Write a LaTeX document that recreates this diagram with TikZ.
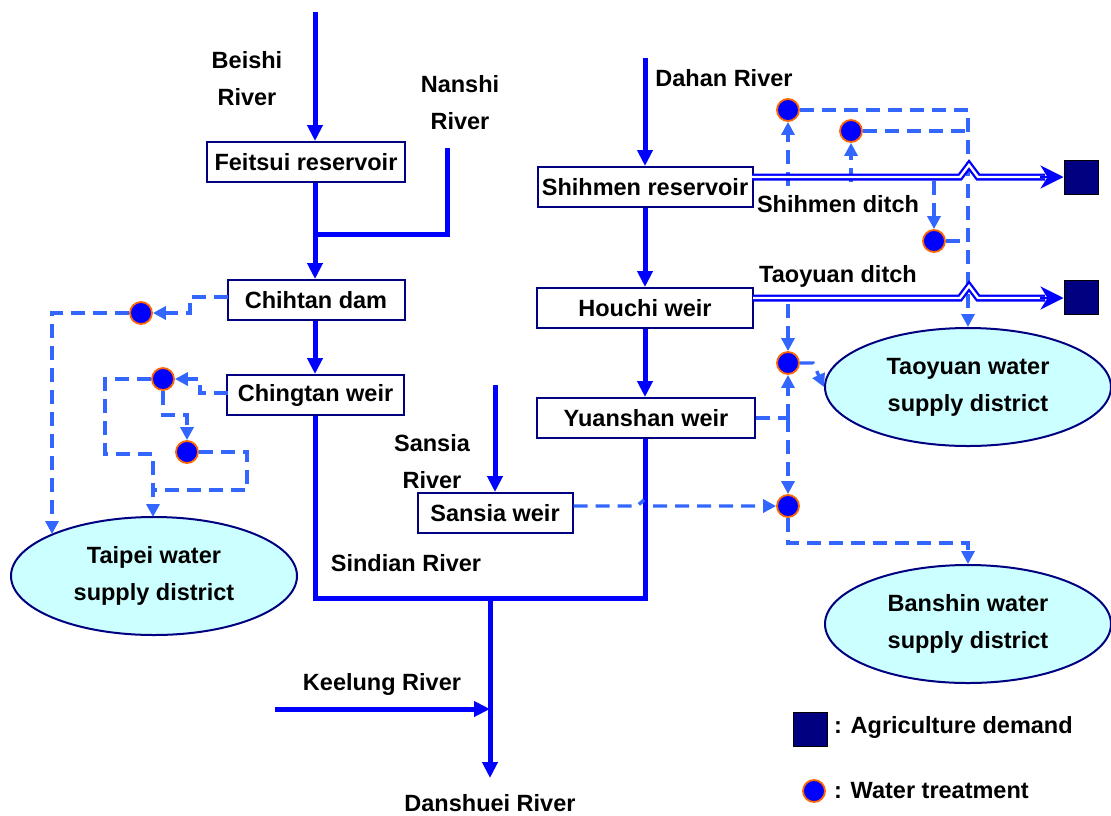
\documentclass[tikz,border=0pt]{standalone}
\usepackage{fontspec}
\setmainfont{Liberation Sans}
\usetikzlibrary{arrows.meta,shapes.geometric}
\definecolor{riv}{HTML}{0000FF}
\definecolor{dsh}{HTML}{3366FF}
\definecolor{nav}{HTML}{000080}
\definecolor{org}{HTML}{FF6600}
\definecolor{cyn}{HTML}{CCFFFF}
\begin{document}
\begin{tikzpicture}[x=1pt,y=-1pt,
 every node/.style={font=\fontsize{23.5}{37}\selectfont\bfseries},
 box/.style={draw=nav, line width=2pt, fill=white, minimum height=40pt, inner sep=0pt},
 district/.style={ellipse, draw=nav, line width=2pt, fill=cyn, minimum width=286pt, minimum height=118pt, align=center, inner sep=0pt},
 lbl/.style={align=center, inner sep=0pt},
 river/.style={draw=riv, line width=5pt},
 rarrow/.style={river, -{Triangle[length=16pt,width=15pt]}},
 ditch/.style={draw=riv, line width=2.3pt, double=white, double distance=2.4pt},
 ditcharrow/.style={draw=riv, line width=2.5pt, -{Stealth[length=23pt,width=23pt,inset=7pt]}},
 dsl/.style={draw=dsh, line width=3.4pt, dash pattern=on 14pt off 8pt},
 darrow/.style={dsl, -{Triangle[length=13pt,width=13pt]}},
 wt/.style={circle, fill=riv, draw=org, line width=1.8pt, minimum size=22pt, inner sep=0pt},
 agri/.style={draw=black, line width=1pt, fill=nav, minimum size=34pt, inner sep=0pt},
]
\useasboundingbox (0,0) rectangle (1111,815);

% boxes
\node[box, minimum width=198pt] (feitsui) at (306,162) {Feitsui reservoir};
\node[box, minimum width=177pt] (chihtan) at (316,300) {Chihtan dam};
\node[box, minimum width=177pt] (chingtan) at (315.5,395) {Chingtan weir};
\node[box, minimum width=215pt] (shihmen) at (645,187) {Shihmen reservoir};
\node[box, minimum width=216pt] (houchi) at (645,308) {Houchi weir};
\node[box, minimum width=218pt] (yuanshan) at (646,418) {Yuanshan weir};
\node[box, minimum width=155pt] (sansiaw) at (495,513) {Sansia weir};

% districts
\node[district] (taoyuan) at (968,387) {Taoyuan water\\supply district};
\node[district] (banshin) at (968,624) {Banshin water\\supply district};
\node[district] (taipei) at (154,576) {Taipei water\\supply district};

% water treatment
\node[wt] (c1) at (788,110) {};
\node[wt] (c2) at (851,131) {};
\node[wt] (c3) at (934,241) {};
\node[wt] (c4) at (788,363) {};
\node[wt] (c5) at (788,506) {};
\node[wt] (c6) at (141,313) {};
\node[wt] (c7) at (163,379) {};
\node[wt] (c8) at (187,452) {};

% agriculture
\node[agri] (ag1) at (1081,177) {};
\node[agri] (ag2) at (1081,297) {};

% labels
\node[lbl] (beishi) at (247,79) {Beishi\\River};
\node[lbl] (nanshi) at (460,103) {Nanshi\\River};
\node[lbl] (dahan) at (724,78) {Dahan River};
\node[lbl] (sdlbl) at (838,204) {Shihmen ditch};
\node[lbl] (tdlbl) at (838,276) {Taoyuan ditch};
\node[lbl] (sansiaR) at (432,462) {Sansia\\River};
\node[lbl] (sindian) at (406,563) {Sindian River};
\node[lbl] (keelung) at (382,684) {Keelung River};
\node[lbl] (danshuei) at (490,803) {Danshuei River};

% legend
\node[agri] (lg1) at (810,729) {};
\node[wt] (lg2) at (814,791) {};
\node[lbl, anchor=west] (lgt1) at (834,727) {: Agriculture demand};
\node[lbl, anchor=west] (lgt2) at (834,791) {: Water treatment};

% rivers
\coordinate (beishiTop) at (315,12);
\draw[rarrow] (beishiTop) -- (beishiTop |- feitsui.north);
\draw[rarrow] (beishiTop |- feitsui.south) -- (beishiTop |- chihtan.north);
\coordinate (nanshiTop) at (447,148);
\coordinate (nj) at (315,234);
\draw[river] (nanshiTop) |- (nj);
\draw[rarrow] (beishiTop |- chihtan.south) -- (beishiTop |- chingtan.north);
\coordinate (s2) at (645,598);
\draw[river] (chingtan.south) |- (s2) -- (s2 |- yuanshan.south);
\coordinate (dj) at (490,598);
\coordinate (dan) at (490,778);
\draw[rarrow] (dj) -- (dan);
\coordinate (kl) at (275,709);
\draw[rarrow] (kl) -- (kl -| dj);
\coordinate (dahanTop) at (645,58);
\draw[rarrow] (dahanTop) -- (shihmen.north);
\draw[rarrow] (shihmen.south) -- (houchi.north);
\draw[rarrow] (houchi.south) -- (houchi.south |- yuanshan.north);
\coordinate (sansiaTop) at (495,385);
\draw[rarrow] (sansiaTop) -- (sansiaw.north);

% dashed right
\coordinate (d1) at (788,186);
\draw[darrow] (d1) -- (c1.south);
\draw[darrow] (c1.east) -| (taoyuan.north);
\coordinate (d2) at (851,182);
\draw[darrow] (d2) -- (c2.south);
\draw[dsl] (c2.east) -- (c2.east -| taoyuan.north);
\coordinate (d3) at (934,181);
\draw[darrow] (d3) -- (c3.north);
\coordinate (d3e) at (962,241);
\draw[dsl] (c3.east) -- (d3e);
\coordinate (d4) at (788,304);
\draw[darrow] (d4) -- (c4.north);
\coordinate (d4b) at (813,363);
\draw[darrow] (c4.east) -- (d4b) -- (taoyuan.west);
\coordinate (yj) at (788,418);
\draw[dsl] (yuanshan.east) -- (yj);
\draw[darrow] (yj) -- (c4.south);
\draw[darrow] (yj) -- (c5.north);
\draw[darrow] (sansiaw.east |- c5.west) -- (637,506) -- (644,500) (653,506) -- (c5.west);
\coordinate (b1) at (788,543);
\draw[darrow] (c5.south) -- (b1) -| (banshin.north);

% ditches
\coordinate (sd0) at (752,177);
\coordinate (sd1) at (1045,177);
\draw[ditch] (sd0) -- (960,177) -- (969,165) -- (978,177) -- (sd1);
\draw[ditcharrow] (1040,177) -- (ag1.west);
\coordinate (td0) at (753,298);
\coordinate (td1) at (1045,298);
\draw[ditch] (td0) -- (960,298) -- (969,286) -- (978,298) -- (td1);
\draw[ditcharrow] (1040,298) -- (ag2.west |- td1);

% dashed left
\coordinate (l1) at (228,297);
\draw[darrow] (l1) -- (190,297) -- (190,313) -- (c6.east);
\coordinate (tp1) at (52,534);
\draw[darrow] (c6.west) -| (tp1);
\coordinate (l2) at (228,393);
\draw[darrow] (l2) -- (200,393) -- (200,379) -- (c7.east);
\coordinate (tp2) at (153,517);
\draw[darrow] (c7.west) -- (105,379) -- (105,454) -- (153,454) -- (tp2);
\draw[darrow] (c7.south) -- (163,415) -- (187,415) -- (c8.north);
\draw[dsl] (c8.east) -- (247,452) -- (247,490) -- (153,490);
\end{tikzpicture}
\end{document}
